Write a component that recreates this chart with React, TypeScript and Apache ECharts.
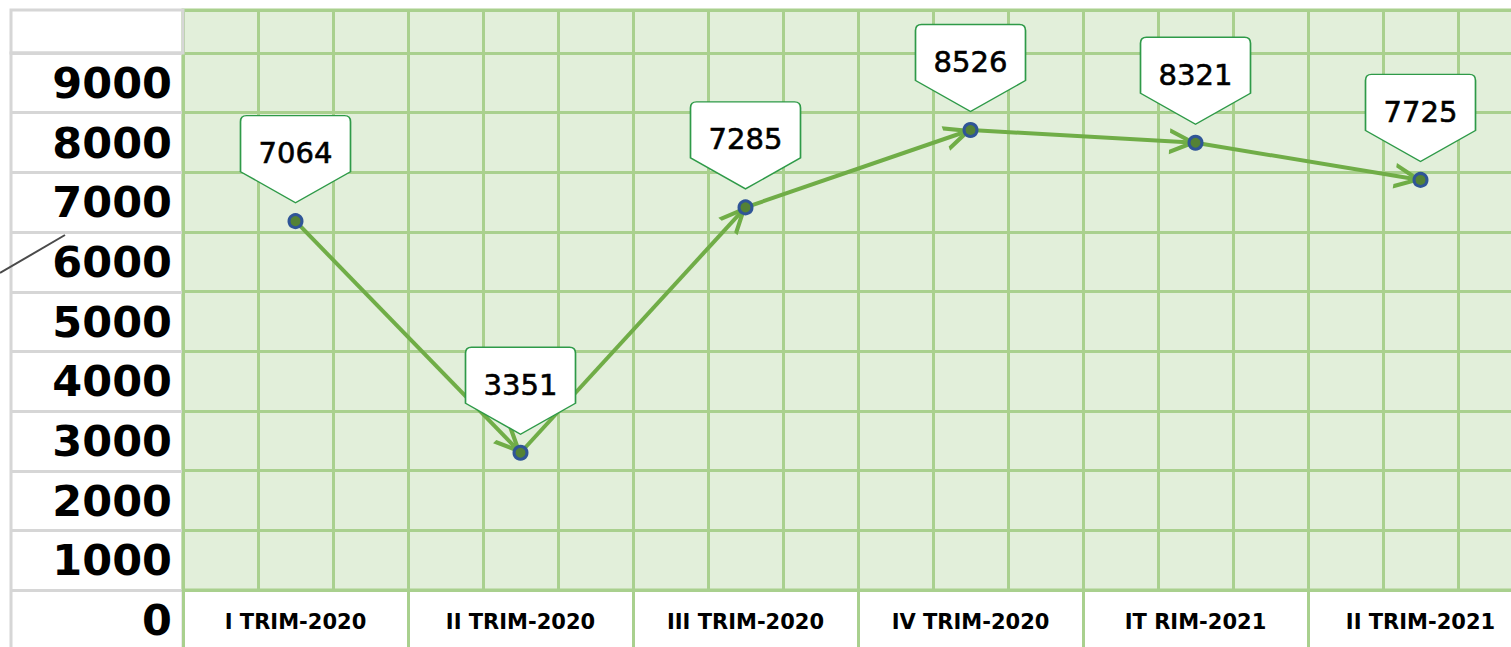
import React, { useEffect, useRef } from "react";
import * as echarts from "echarts";

// ---- data ----
const categories = ["I TRIM-2020", "II TRIM-2020", "III TRIM-2020", "IV TRIM-2020", "IT RIM-2021", "II TRIM-2021"];
const values = [7064, 3351, 7285, 8526, 8321, 7725];
const yTickLabels = ["0", "1000", "2000", "3000", "4000", "5000", "6000", "7000", "8000", "9000"];

const GREEN_LINE = "#a9d08e";
const GREEN_BG = "#e2efda";
const GREY_LINE = "#d6d6d6";

const ARROW =
  "path://M0 0L0.01 0L0 0.01Z M40 0L39.99 0L40 0.01Z M20 18L30 40L26.5 40L20 25.7L13.5 40L10 40Z";
const CALLOUT = "path://M6 0L104 0Q110 0 110 6L110 56L55 87L0 56L0 6Q0 0 6 0Z";

export default function App() {
  const ref = useRef<HTMLDivElement>(null);
  useEffect(() => {
    if (!ref.current) return;
    const chart = echarts.init(ref.current, null, { renderer: "svg" });
    const segments = values.slice(1).map((v, i) => ({
      coords: [
        [i, values[i]],
        [i + 1, v],
      ],
    }));
    chart.setOption({
      animation: false,
      backgroundColor: "#ffffff",
      grid: [
        {
          // left label column
          left: 11,
          top: 53,
          width: 172,
          height: 597,
          show: true,
          containLabel: false,
          outerBoundsMode: "none",
          borderColor: GREY_LINE,
          borderWidth: 3,
          backgroundColor: "transparent",
        },
        {
          // plot area (extends past the right edge of the picture)
          left: 183,
          top: 10,
          width: 1350,
          height: 580,
          show: true,
          containLabel: false,
          outerBoundsMode: "none",
          backgroundColor: GREEN_BG,
          borderColor: GREEN_LINE,
          borderWidth: 3,
        },
      ],
      xAxis: [
        { gridIndex: 0, type: "value", show: false },
        {
          gridIndex: 1,
          type: "category",
          data: categories,
          boundaryGap: true,
          position: "bottom",
          axisLine: { show: true, lineStyle: { color: GREEN_LINE, width: 3 } },
          axisTick: { show: true, length: 60, alignWithLabel: false, lineStyle: { color: GREEN_LINE, width: 3 } },
          axisLabel: {
            margin: 21,
            fontFamily: "DejaVu Sans",
            fontWeight: "bold",
            fontSize: 21,
            color: "#000",
          },
          splitLine: { show: false },
        },
        {
          gridIndex: 1,
          type: "value",
          min: 0,
          max: 18,
          interval: 1,
          position: "top",
          axisLine: { show: false },
          axisTick: { show: false },
          axisLabel: { show: false },
          splitLine: { show: true, lineStyle: { color: GREEN_LINE, width: 3 } },
        },
      ],
      yAxis: [
        {
          gridIndex: 0,
          type: "category",
          data: yTickLabels,
          boundaryGap: true,
          position: "right",
          axisLine: { show: false },
          axisTick: { show: false },
          axisLabel: {
            inside: true,
            margin: 11,
            fontFamily: "DejaVu Sans",
            fontWeight: "bold",
            fontSize: 43,
            color: "#000",
          },
          splitLine: { show: true, lineStyle: { color: GREY_LINE, width: 3 } },
        },
        {
          gridIndex: 1,
          type: "value",
          min: 1150,
          max: 10450,
          show: false,
        },
        {
          gridIndex: 1,
          type: "value",
          min: 0,
          max: 9.72,
          interval: 1,
          axisLine: { show: false },
          axisTick: { show: false },
          axisLabel: { show: false },
          splitLine: { show: true, lineStyle: { color: GREEN_LINE, width: 3 } },
        },
      ],
      graphic: [
        {
          type: "rect",
          shape: { x: 11, y: 10, width: 172, height: 43 },
          style: { fill: "transparent", stroke: GREY_LINE, lineWidth: 3 },
          z: 1,
        },
        {
          type: "line",
          shape: { x1: 0, y1: 273, x2: 65, y2: 235 },
          style: { stroke: "#4a4a4a", lineWidth: 2 },
          z: 10,
        },
      ],
      series: [
        {
          type: "lines",
          coordinateSystem: "cartesian2d",
          xAxisIndex: 1,
          yAxisIndex: 1,
          data: segments,
          symbol: ["none", ARROW],
          symbolSize: 52,
          lineStyle: { color: "#70ad47", width: 4, opacity: 1 },
          z: 3,
        },
        {
          type: "line",
          xAxisIndex: 1,
          yAxisIndex: 1,
          data: values,
          symbol: "circle",
          symbolSize: 13,
          showAllSymbol: true,
          lineStyle: { width: 0, opacity: 0 },
          itemStyle: { color: "#548235", borderColor: "#2f5597", borderWidth: 3 },
          z: 4,
        },
        {
          type: "scatter",
          xAxisIndex: 1,
          yAxisIndex: 1,
          data: values.map((v, i) => [i, v]),
          symbol: CALLOUT,
          symbolSize: [110, 87],
          symbolOffset: [0, -62],
          itemStyle: { color: "#ffffff", borderColor: "#2e9a48", borderWidth: 1.5, opacity: 1 },
          label: {
            show: true,
            position: "inside",
            offset: [0, -6],
            formatter: (p: any) => String(p.value[1]),
            fontFamily: "DejaVu Sans",
            fontSize: 29,
            color: "#000",
            textBorderColor: "#000",
            textBorderWidth: 0.6,
          },
          z: 5,
        },
      ],
    });
    return () => chart.dispose();
  }, []);
  return (
    <div
      ref={ref}
      style={{ position: "absolute", left: 0, top: 0, width: 1511, height: 647, background: "#fff" }}
    />
  );
}
